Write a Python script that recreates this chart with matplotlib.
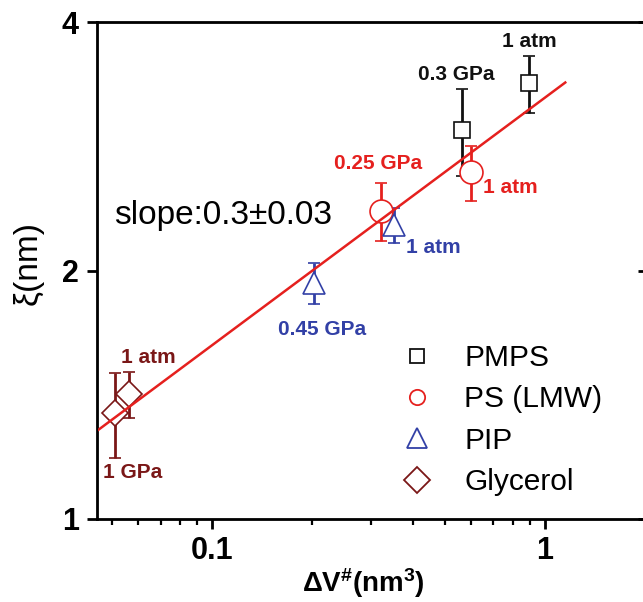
import matplotlib
matplotlib.use("Agg")
import numpy as np
import matplotlib.pyplot as plt
from matplotlib.lines import Line2D
from matplotlib.ticker import NullLocator

plt.rcParams['font.family'] = ['Liberation Sans', 'DejaVu Sans']
plt.rcParams['mathtext.fontset'] = 'custom'
plt.rcParams['mathtext.rm'] = 'Liberation Sans'
plt.rcParams['mathtext.bf'] = 'Liberation Sans:bold'

# activation volume (nm^3), correlation length (nm), error (nm)
pmps_dv = [0.564, 0.895]
pmps_xi = [2.96, 3.37]
pmps_err = [0.36, 0.27]
pmps_tags = ["0.3 GPa", "1 atm"]

ps_dv = [0.321, 0.600]
ps_xi = [2.36, 2.63]
ps_err = [0.19, 0.20]
ps_tags = ["0.25 GPa", "1 atm"]

pip_dv = [0.202, 0.352]
pip_xi = [1.93, 2.27]
pip_err = [0.11, 0.11]
pip_tags = ["0.45 GPa", "1 atm"]

gly_dv = [0.0511, 0.0563]
gly_xi = [1.344, 1.417]
gly_err = [0.16, 0.09]
gly_tags = ["1 GPa", "1 atm"]

# power-law fit xi = A * dV^slope
fit_slope = 0.3
fit_prefactor = 3.24
fit_range = [0.0451, 1.15]

x_major = [0.1, 1]
x_major_labels = ["0.1", "1"]
x_minor = [0.05, 0.06, 0.07, 0.08, 0.09, 0.2, 0.3, 0.4, 0.5, 0.6, 0.7, 0.8, 0.9, 2]
y_major = [1, 2, 4]
y_major_labels = ["1", "2", "4"]

black = "#111111"
red = "#e5201e"
blue = "#3240a6"
maroon = "#7a1717"

fig = plt.figure(figsize=(6.43, 6.02), dpi=100)
ax = fig.add_axes([97 / 643, 83 / 602, 549 / 643, 497 / 602])
ax.set_xscale('log')
ax.set_yscale('log')
ax.set_xlim(0.0451, 2.01)
ax.set_ylim(1, 4)

groups = [
    (pmps_dv, pmps_xi, pmps_err, pmps_tags, 's', 11.5, black,
     [(-4, 40), (0, 30)]),
    (ps_dv, ps_xi, ps_err, ps_tags, 'o', 16.5, red,
     [(-2, 34), (28, -11)]),
    (pip_dv, pip_xi, pip_err, pip_tags, '^', 16, blue,
     [(6, -33), (28, -16)]),
    (gly_dv, gly_xi, gly_err, gly_tags, 'D', 13, maroon,
     [(13, -43), (14, 26)]),
]

for dv, xi, err, tags, mk, ms, col, offs in groups:
    ax.errorbar(dv, xi, yerr=err, fmt=mk, ms=ms, mfc='white', mec=col,
                mew=1.2, ecolor=col, elinewidth=2, capsize=4,
                capthick=2, zorder=3)
    for x, y, t, (dx, dy) in zip(dv, xi, tags, offs):
        ax.annotate(t, (x, y), xytext=(dx, dy), textcoords='offset points',
                    ha='center', va='center', color=col, fontsize=15,
                    fontweight='bold')

xf = np.logspace(np.log10(fit_range[0]), np.log10(fit_range[1]), 50)
ax.plot(xf, fit_prefactor * xf ** fit_slope, color=red, lw=1.8, zorder=5)

ax.text(0.2295, 0.61, "slope:0.3\u00b10.03", transform=ax.transAxes,
        ha='center', va='center', fontsize=24)

handles = [
    Line2D([], [], ls='none', marker='s', ms=10, mfc='white', mec=black, mew=1.3),
    Line2D([], [], ls='none', marker='o', ms=11, mfc='white', mec=red, mew=1.3),
    Line2D([], [], ls='none', marker='^', ms=14, mfc='white', mec=blue, mew=1.3),
    Line2D([], [], ls='none', marker='D', ms=13, mfc='white', mec=maroon, mew=1.3),
]
ax.legend(handles, ["PMPS", "PS (LMW)", "PIP", "Glycerol"], loc='upper left',
          bbox_to_anchor=(0.557, 0.352), frameon=False, fontsize=21.5,
          handlelength=0.95, handletextpad=1.1, labelspacing=0.45,
          borderaxespad=0, borderpad=0)

ax.set_xticks(x_major, labels=x_major_labels, fontsize=22, fontweight='bold')
ax.set_xticks(x_minor, minor=True)
ax.set_xticklabels([], minor=True)
ax.set_yticks(y_major, labels=y_major_labels, fontsize=22, fontweight='bold')
ax.yaxis.set_minor_locator(NullLocator())
ax.tick_params(which='major', direction='out', length=7, width=2, pad=5)
ax.tick_params(which='minor', direction='out', length=4, width=1.6)
ax.tick_params(axis='y', pad=6)

for s in ax.spines.values():
    s.set_linewidth(2)

# inward ticks on the right-hand frame
ax2 = ax.twinx()
ax2.set_yscale('log')
ax2.set_ylim(1, 4)
ax2.set_yticks(y_major)
ax2.yaxis.set_minor_locator(NullLocator())
ax2.tick_params(direction='in', length=6, width=2, labelright=False)
ax2.spines['right'].set_linewidth(2)

ax.set_xlabel(r"$\mathbf{\Delta V^{\#}(nm^{3})}$", fontsize=20)
ax.xaxis.set_label_coords(0.4845, -0.095)
ax.set_ylabel("\u03be(nm)", fontsize=24)
ax.yaxis.set_label_coords(-0.098, 0.515)

fig.savefig("out.png", dpi=100)
